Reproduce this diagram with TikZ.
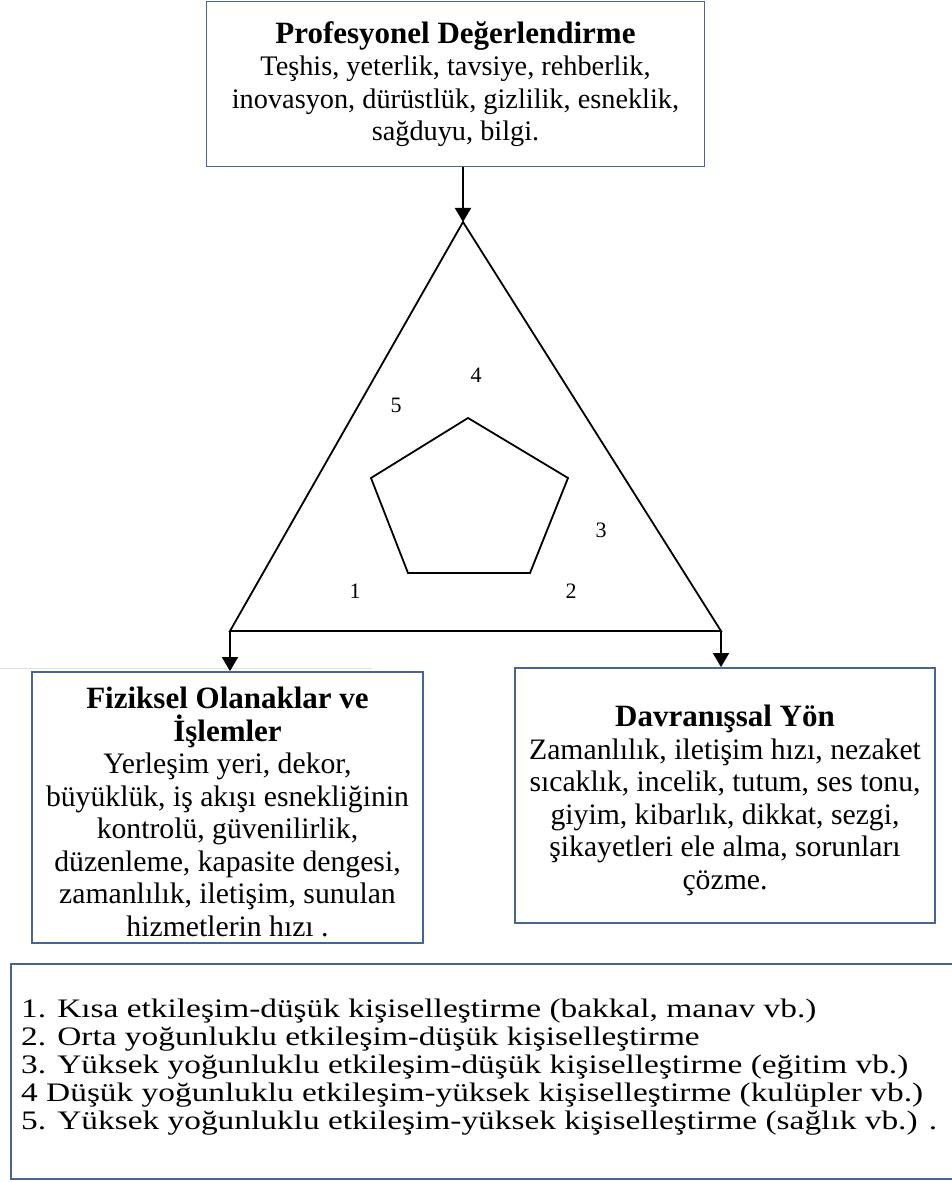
\documentclass[tikz,border=0pt]{standalone}
\usepackage{fontspec}
\setmainfont{Liberation Serif}
\newfontfamily\legendfont[FakeStretch=1.25]{Liberation Serif}
\usetikzlibrary{arrows.meta}
\definecolor{boxline}{RGB}{68,102,145}
\newcommand{\boxhead}[1]{{\fontsize{31}{32.5}\selectfont\textbf{#1}}}
\begin{document}
\begin{tikzpicture}[x=1pt,y=-1pt,
  box/.style={draw=boxline,line width=1.8pt,inner sep=0pt},
  boxtext/.style={align=center,inner sep=0pt,font=\fontsize{29.7}{32.5}\selectfont},
  edge/.style={line width=1.8pt,black},
  flow/.style={edge,-{Triangle[width=16pt,length=14pt]}},
  num/.style={font=\fontsize{22}{24}\selectfont,inner sep=0pt}]
\useasboundingbox (0,0) rectangle (952,1182);

% faint rule across the page
\draw[black!12,line width=1pt] (0,668) -- (372,668);

% top box
\node[box,minimum width=498pt,minimum height=165pt] (prof) at (455.5,84) {};
\node[boxtext,font=\fontsize{28.3}{32.5}\selectfont] (proftext) at (455.5,84)
  {\boxhead{Profesyonel Değerlendirme}\\
   Teşhis, yeterlik, tavsiye, rehberlik,\\
   inovasyon, dürüstlük, gizlilik, esneklik,\\
   sağduyu, bilgi.};

% triangle
\coordinate (apex) at (463,222);
\coordinate (bl) at (230,631);
\coordinate (br) at (721,631);
\draw[edge] (bl) -- (apex) -- (br) -- cycle;
\draw[flow] (prof.south -| apex) -- (apex);

% pentagon
\draw[edge] (468,418) -- (568,478) -- (530,573) -- (408,573) -- (371,478) -- cycle;

% region numbers
\node[num] (n4) at (476,375) {4};
\node[num] (n5) at (396,405) {5};
\node[num] (n3) at (601,530) {3};
\node[num] (n1) at (355,591) {1};
\node[num] (n2) at (571,591) {2};

% lower boxes
\node[box,minimum width=391pt,minimum height=271pt] (phys) at (227.5,807.5) {};
\node[boxtext] (phystext) at (227.5,812)
  {\boxhead{Fiziksel Olanaklar ve}\\
   \boxhead{İşlemler}\\
   Yerleşim yeri, dekor,\\
   büyüklük, iş akışı esnekliğinin\\
   kontrolü, güvenilirlik,\\
   düzenleme, kapasite dengesi,\\
   zamanlılık, iletişim, sunulan\\
   hizmetlerin hızı .};
\node[box,minimum width=420pt,minimum height=255pt] (beh) at (725,795.5) {};
\node[boxtext] (behtext) at (725,800.5)
  {\boxhead{Davranışsal Yön}\\
   Zamanlılık, iletişim hızı, nezaket\\
   sıcaklık, incelik, tutum, ses tonu,\\
   giyim, kibarlık, dikkat, sezgi,\\
   şikayetleri ele alma, sorunları\\
   çözme.};
\draw[flow] (bl) -- (bl |- phys.north);
\draw[flow] (br) -- (br |- beh.north);

% legend
\node[box,minimum width=960pt,minimum height=215pt,anchor=north west] (legendbox) at (10,963) {};
\node[anchor=west,align=left,inner sep=0pt,font=\legendfont\fontsize{26.7}{28}\selectfont] (legend) at (21,1067.5)
  {1. Kısa etkileşim-düşük kişiselleştirme (bakkal, manav vb.)\\
   2. Orta yoğunluklu etkileşim-düşük kişiselleştirme\\
   3. Yüksek yoğunluklu etkileşim-düşük kişiselleştirme (eğitim vb.)\\
   4 Düşük yoğunluklu etkileşim-yüksek kişiselleştirme (kulüpler vb.)\\
   5. Yüksek yoğunluklu etkileşim-yüksek kişiselleştirme (sağlık vb.) .};
\end{tikzpicture}
\end{document}
